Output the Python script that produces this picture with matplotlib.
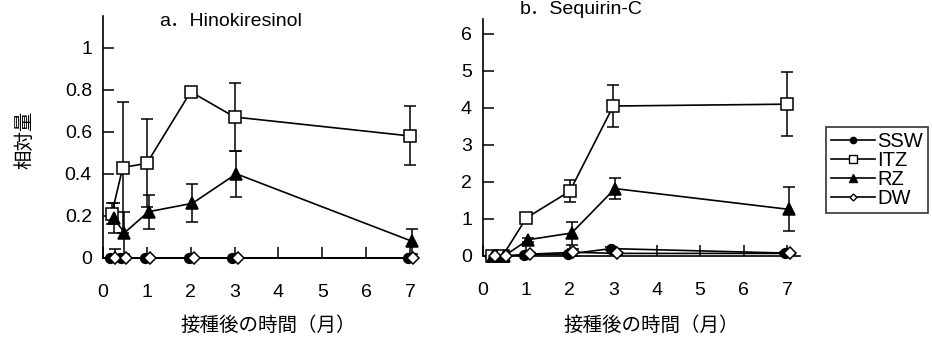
import numpy as np
import matplotlib.pyplot as plt
from matplotlib.lines import Line2D

plt.rcParams['font.family'] = ['Liberation Sans', 'Noto Sans CJK JP', 'DejaVu Sans']

# sampling times (months after inoculation)
months = np.array([0.2, 0.45, 1, 2, 3, 7])
series = ["SSW", "ITZ", "RZ", "DW"]

# a. Hinokiresinol
hino_mean = {
    "SSW": [0.0, 0.0, 0.0, 0.0, 0.0, 0.0],
    "ITZ": [0.21, 0.43, 0.45, 0.79, 0.67, 0.58],
    "RZ":  [0.19, 0.12, 0.22, 0.26, 0.40, 0.08],
    "DW":  [0.0, 0.0, 0.0, 0.0, 0.0, 0.0],
}
hino_err = {
    "SSW": [0.0, 0.0, 0.0, 0.0, 0.0, 0.0],
    "ITZ": [0.05, 0.31, 0.21, 0.02, 0.16, 0.14],
    "RZ":  [0.07, 0.10, 0.08, 0.09, 0.11, 0.06],
    "DW":  [0.045, 0.0, 0.0, 0.0, 0.0, 0.0],
}

# b. Sequirin-C
seq_mean = {
    "SSW": [0.0, 0.0, 0.03, 0.05, 0.20, 0.08],
    "ITZ": [0.0, 0.0, 1.03, 1.75, 4.05, 4.10],
    "RZ":  [0.0, 0.0, 0.44, 0.62, 1.82, 1.26],
    "DW":  [0.0, 0.0, 0.05, 0.10, 0.07, 0.07],
}
seq_err = {
    "SSW": [0.0, 0.0, 0.0, 0.03, 0.05, 0.03],
    "ITZ": [0.0, 0.0, 0.13, 0.29, 0.56, 0.86],
    "RZ":  [0.0, 0.0, 0.05, 0.31, 0.29, 0.59],
    "DW":  [0.0, 0.0, 0.02, 0.10, 0.03, 0.02],
}

styles = {
    "SSW": dict(marker='o', mfc='black', ms=7, shift=-0.05),
    "ITZ": dict(marker='s', mfc='white', ms=8, shift=0.0),
    "RZ":  dict(marker='^', mfc='black', ms=8, shift=0.04),
    "DW":  dict(marker='D', mfc='white', ms=6, shift=0.08),
}

fig = plt.figure(figsize=(9.32, 3.42), dpi=100)
ax_a = fig.add_axes([103/932, 1-258/342, 314/932, 242/342])
ax_b = fig.add_axes([483/932, 1-256/342, 317/932, 237/342])

def draw(ax, means, errs):
	for name in series:
		st = styles[name]
		m = np.array(means[name])
		e = np.array(errs[name], dtype=float)
		e[e == 0] = np.nan
		lo = np.minimum(e, m)  # no bar below zero
		h = ax.errorbar(months + st['shift'], m, yerr=[lo, e],
			color='black', lw=1.2, elinewidth=1.1, capsize=4, capthick=1.1,
			marker=st['marker'], mfc=st['mfc'], mec='black', ms=st['ms'],
			mew=1.1, clip_on=False, zorder=3)
		for art in h.lines[1] + h.lines[2]:
			art.set_clip_on(False)
	for s in ['top', 'right']:
		ax.spines[s].set_visible(False)
	for s in ['left', 'bottom']:
		ax.spines[s].set_linewidth(1.2)
	ax.tick_params(direction='in', length=8, width=1.1, labelsize=14)
	ax.tick_params(axis='x', pad=19)
	ax.tick_params(axis='y', pad=8)
	ax.set_xticks(range(8))

draw(ax_a, hino_mean, hino_err)
ax_a.set_xlim(0, 7.16)
ax_a.set_ylim(0, 1.15)
ax_a.set_yticks([0, 0.2, 0.4, 0.6, 0.8, 1])
ax_a.set_yticklabels(["0", "0.2", "0.4", "0.6", "0.8", "1"])

draw(ax_b, seq_mean, seq_err)
ax_b.set_xlim(0, 7.3)
ax_b.set_ylim(0, 6.4)
ax_b.set_yticks(range(7))

jp = ['Noto Sans CJK JP', 'DejaVu Sans']
fig.text(159/932, 1-21/342, "a．Hinokiresinol", fontsize=14, va='center', ha='left')
fig.text(520/932, 1-10/342, "b．Sequirin-C", fontsize=14, va='center', ha='left')
fig.text(268/932, 1-325/342, "接種後の時間（月）", family=jp, fontsize=14, ha='center', va='center')
fig.text(651/932, 1-325/342, "接種後の時間（月）", family=jp, fontsize=14, ha='center', va='center')
fig.text(25/932, 1-140/342, "相対量", family=jp, fontsize=14, rotation=90, ha='center', va='center')

handles = [Line2D([], [], color='black', lw=1.2, marker=styles[n]['marker'],
	mfc=styles[n]['mfc'], mec='black', ms=styles[n]['ms'] - 2.5, mew=1.0)
	for n in series]
leg = fig.legend(handles=handles, labels=series, loc='upper left',
	bbox_to_anchor=(826/932, 1-127/342), frameon=True, fancybox=False,
	edgecolor='black', fontsize=14.5, handlelength=2.2, handletextpad=0.1,
	labelspacing=0.0, borderpad=0.25, borderaxespad=0)
leg.get_frame().set_linewidth(1.2)

fig.savefig("out.png", dpi=100)
